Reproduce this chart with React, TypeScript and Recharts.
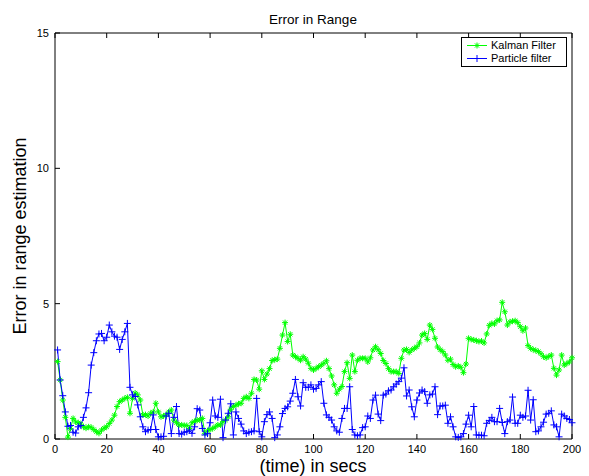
import React from "react";
import { LineChart, Line, XAxis, YAxis } from "recharts";

// Kalman filter range error, one value per second (t = 1..200)
const kalmanError = [
  2.86, 2.18, 1.44, 0.8, 0.07, 0.39, 0.76, 0.63, 0.6, 0.55,
  0.45, 0.4, 0.45, 0.43, 0.35, 0.27, 0.21, 0.33, 0.4, 0.45,
  0.57, 0.7, 0.88, 1.2, 1.38, 1.44, 1.5, 1.54, 0.95, 1.5,
  1.7, 1.63, 1.44, 0.89, 0.9, 0.85, 0.95, 1.0, 1.32, 1.0,
  0.82, 0.85, 0.89, 1.0, 1.07, 0.7, 0.6, 0.52, 0.52, 0.5,
  0.5, 0.39, 0.6, 0.65, 0.7, 0.7, 0.76, 0.21, 0.3, 0.35,
  0.39, 0.45, 0.52, 0.52, 0.64, 0.7, 0.82, 1.1, 1.2, 1.25,
  1.3, 1.32, 1.5, 1.56, 1.5, 1.69, 2.2, 2.18, 1.84, 2.52,
  2.2, 2.4, 2.6, 2.9, 2.93, 2.95, 3.35, 3.84, 4.3, 3.6,
  3.87, 3.1, 3.04, 2.98, 2.91, 3.04, 2.95, 2.8, 2.61, 2.55,
  2.61, 2.67, 2.73, 2.8, 2.89, 2.6, 2.33, 2.0, 1.69, 1.84,
  1.94, 2.49, 2.82, 2.24, 3.1, 2.49, 2.91, 2.98, 2.98, 2.98,
  2.85, 3.0, 3.29, 3.41, 3.3, 3.16, 2.9, 2.79, 2.6, 2.49,
  2.49, 2.49, 2.42, 2.98, 3.29, 3.31, 3.2, 3.29, 3.35, 3.41,
  3.55, 3.84, 3.9, 3.68, 4.21, 4.05, 3.72, 3.4, 3.3, 3.23,
  3.1, 2.91, 2.95, 2.75, 2.67, 2.7, 2.65, 2.45, 2.77, 3.72,
  3.68, 3.66, 3.63, 3.6, 3.62, 3.55, 3.88, 4.2, 4.27, 4.25,
  4.37, 4.4, 5.05, 4.7, 4.21, 4.33, 4.35, 4.37, 4.3, 4.15,
  4.0, 4.1, 3.45, 3.35, 3.3, 3.27, 3.23, 3.15, 3.04, 3.0,
  3.05, 3.1, 2.61, 2.36, 2.55, 3.1, 2.73, 2.79, 2.85, 3.0,
];

// Particle filter range error, same time steps
const particleError = [
  3.29, 2.18, 1.6, 1.0, 0.47, 0.5, 0.25, 0.22, 0.45, 0.5,
  0.8, 1.15, 1.71, 2.73, 3.19, 3.63, 3.88, 3.9, 3.63, 3.76,
  4.21, 3.96, 3.8, 3.76, 3.31, 3.68, 3.96, 4.27, 1.91, 1.63,
  1.57, 1.26, 0.82, 0.45, 0.27, 0.33, 0.35, 0.89, 0.35, 0.08,
  0.08, 0.1, 0.85, 0.95, 0.2, 0.8, 1.2, 0.2, 0.18, 0.25,
  0.27, 0.33, 0.21, 0.45, 1.12, 1.07, 0.39, 0.15, 0.2, 0.6,
  1.44, 0.85, 0.8, 1.47, 0.05, 0.7, 0.95, 1.3, 0.15, 1.0,
  0.76, 0.55, 0.3, 0.2, 0.25, 0.27, 0.3, 1.5, 0.27, 0.08,
  0.64, 0.9, 1.0, 0.76, 0.05, 0.15, 0.45, 0.94, 1.13, 1.19,
  1.4, 1.69, 2.2, 1.56, 1.22, 2.08, 1.91, 1.91, 2.0, 1.84,
  1.87, 2.0, 2.12, 1.32, 0.89, 0.8, 0.7, 0.45, 0.3, 0.25,
  0.76, 1.13, 1.13, 1.93, 0.35, 0.15, 0.12, 0.15, 0.42, 0.45,
  0.85, 0.76, 1.44, 1.62, 0.92, 0.68, 1.62, 1.66, 1.78, 1.81,
  1.93, 2.03, 2.12, 2.25, 2.63, 1.59, 1.81, 1.19, 0.82, 1.44,
  1.7, 1.81, 1.75, 1.32, 1.63, 1.66, 1.93, 0.9, 1.22, 1.22,
  1.25, 0.58, 0.82, 0.45, 0.08, 0.06, 0.08, 0.2, 0.55, 0.88,
  0.45, 1.2, 0.15, 0.14, 0.14, 0.12, 0.58, 0.68, 0.8, 0.64,
  0.64, 1.13, 0.61, 0.2, 0.64, 0.7, 1.55, 0.58, 0.58, 0.88,
  0.8, 0.85, 1.8, 0.7, 1.45, 0.27, 0.3, 0.45, 0.62, 0.92,
  0.95, 1.04, 0.52, 0.45, 0.08, 0.92, 0.85, 0.76, 0.72, 0.6,
];

const xTicks = [0, 20, 40, 60, 80, 100, 120, 140, 160, 180, 200];
const yTicks = [0, 5, 10, 15];

const data = kalmanError.map((k, i) => ({
  t: i + 1,
  kalman: k,
  particle: particleError[i],
}));

const FONT = "'Liberation Sans', Arial, Helvetica, sans-serif";
const GREEN = "#00ff00";
const BLUE = "#0000ff";

// matlab style '*' marker
const StarDot = (p: any) => {
  const { cx, cy, index } = p;
  if (cx == null || cy == null) return <g key={index} />;
  const r = 3;
  const d = r * 0.7;
  return (
    <path
      key={index}
      d={`M${cx - r},${cy}h${2 * r}M${cx},${cy - r}v${2 * r}M${cx - d},${cy - d}l${2 * d},${2 * d}M${cx - d},${cy + d}l${2 * d},${-2 * d}`}
      stroke={GREEN}
      strokeWidth={1}
      fill="none"
    />
  );
};

// matlab style '+' marker
const PlusDot = (p: any) => {
  const { cx, cy, index } = p;
  if (cx == null || cy == null) return <g key={index} />;
  const r = 3.5;
  return (
    <path
      key={index}
      d={`M${cx - r},${cy}h${2 * r}M${cx},${cy - r}v${2 * r}`}
      stroke={BLUE}
      strokeWidth={1}
      fill="none"
    />
  );
};

const tickStyle = { fontSize: 11, fill: "#000", fontFamily: FONT };

export default function App() {
  return (
    <div style={{ position: "relative", width: 581, height: 468, fontFamily: FONT }}>
      <LineChart
        width={581}
        height={468}
        data={data}
        margin={{ top: 24, right: 16, left: 0, bottom: 0 }}
      >
        <XAxis
          dataKey="t"
          type="number"
          domain={[0, 200]}
          ticks={xTicks}
          height={37}
          tickSize={-5}
          tickMargin={11}
          stroke="#000"
          tick={tickStyle}
          interval={0}
        />
        {/* top edge of the box, ticks pointing in */}
        <XAxis
          xAxisId="top"
          dataKey="t"
          type="number"
          orientation="top"
          domain={[0, 200]}
          ticks={xTicks}
          height={1}
          tickSize={-5}
          stroke="#000"
          tick={{ fontSize: 1, fill: "none" }}
          tickFormatter={() => ""}
          interval={0}
        />
        <YAxis
          type="number"
          domain={[0, 15]}
          ticks={yTicks}
          width={47}
          tickSize={-5}
          tickMargin={11}
          stroke="#000"
          tick={tickStyle}
          interval={0}
        />
        {/* right edge of the box */}
        <YAxis
          yAxisId="right"
          orientation="right"
          type="number"
          domain={[0, 15]}
          ticks={yTicks}
          width={1}
          tickSize={-5}
          stroke="#000"
          tick={{ fontSize: 1, fill: "none" }}
          tickFormatter={() => ""}
          interval={0}
        />
        <Line
          dataKey="kalman"
          stroke={GREEN}
          strokeWidth={1}
          dot={StarDot}
          activeDot={false}
          isAnimationActive={false}
          type="linear"
        />
        <Line
          dataKey="particle"
          stroke={BLUE}
          strokeWidth={1}
          dot={PlusDot}
          activeDot={false}
          isAnimationActive={false}
          type="linear"
        />
      </LineChart>

      {/* title */}
      <div
        style={{
          position: "absolute",
          left: 205,
          width: 200,
          top: 4,
          textAlign: "center",
          fontSize: 13.5,
          lineHeight: "16px",
        }}
      >
        Error in Range
      </div>

      {/* x axis label */}
      <div
        style={{
          position: "absolute",
          left: 155,
          width: 300,
          top: 449,
          textAlign: "center",
          fontSize: 18,
          lineHeight: "18px",
        }}
      >
        (time) in secs
      </div>

      {/* y axis label */}
      <div
        style={{
          position: "absolute",
          left: 12 - 150,
          width: 300,
          top: 228 - 10,
          textAlign: "center",
          fontSize: 18,
          lineHeight: "20px",
          transform: "rotate(-90deg)",
          transformOrigin: "150px 10px",
        }}
      >
        Error in range estimation
      </div>

      {/* legend */}
      <div
        style={{
          position: "absolute",
          left: 453,
          top: 29,
          width: 104,
          height: 28,
          border: "1px solid #000",
          background: "#fff",
          fontSize: 11,
        }}
      >
        {[
          { name: "Kalman Filter", color: GREEN, Dot: StarDot },
          { name: "Particle filter", color: BLUE, Dot: PlusDot },
        ].map((it, i) => (
          <div
            key={it.name}
            style={{ position: "absolute", left: 0, top: 1 + i * 13, height: 13, width: 104 }}
          >
            <svg width={26} height={13} style={{ position: "absolute", left: 4, top: 0 }}>
              <line x1={1} x2={21} y1={6.5} y2={6.5} stroke={it.color} strokeWidth={1} />
              <it.Dot cx={11} cy={6.5} index={0} />
            </svg>
            <span style={{ position: "absolute", left: 29, top: 0, lineHeight: "13px", whiteSpace: "nowrap" }}>
              {it.name}
            </span>
          </div>
        ))}
      </div>
    </div>
  );
}
